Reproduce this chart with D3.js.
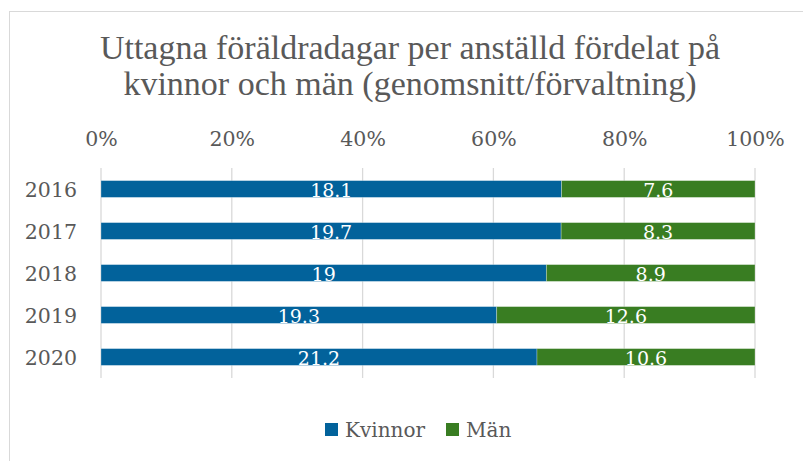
<!DOCTYPE html>
<html>
<head>
<meta charset="utf-8">
<script src="https://cdn.jsdelivr.net/npm/d3@7"></script>
<style>
    body { margin: 0; background: #fff; }
    text { font-family: "DejaVu Serif", serif; }
</style>
</head>
<body>
<div id="chart"></div>
<script>
var years           =   [ '2016', '2017', '2018', '2019', '2020' ];
var kvinnor         =   [ 18.1, 19.7, 19, 19.3, 21.2 ];
var man             =   [ 7.6, 8.3, 8.9, 12.6, 10.6 ];
var ticks           =   [ 0, 0.2, 0.4, 0.6, 0.8, 1 ];
var series_names    =   [ 'Kvinnor', 'Män' ];
var title_lines     =   [ 'Uttagna föräldradagar per anställd fördelat på', 'kvinnor och män (genomsnitt/förvaltning)' ];
var colors          =   [ '#02629b', '#397d22' ];

var chart_width     =   803;
var chart_height    =   461;
var plot_left       =   101;
var plot_right      =   755;
var plot_top        =   168;
var plot_bottom     =   378;

var svg             =   d3.select( '#chart' )
    .append( 'svg' )
    .attr( 'width', chart_width )
    .attr( 'height', chart_height );

// chart border
svg.append( 'rect' )
    .attr( 'x', 9.5 )
    .attr( 'y', 11.5 )
    .attr( 'width', 820 )
    .attr( 'height', 480 )
    .attr( 'fill', '#fff' )
    .attr( 'stroke', '#d9d9d9' );

// title, one text per line (style beats the css rule)
var title_y         =   [ 59, 95 ];
svg.append( 'g' )
    .selectAll( 'text' )
    .data( title_lines )
    .enter()
    .append( 'text' )
    .attr( 'x', 410 )
    .attr( 'y', function(d, i){ return title_y[i]; } )
    .attr( 'text-anchor', 'middle' )
    .attr( 'fill', '#595959' )
    .style( 'font-family', '"Liberation Serif", serif' )
    .style( 'font-size', '34px' )
    .text(function(d){ return d; });

// stack data
var rows = years.map(function(y, i){
    return { year: y, Kvinnor: kvinnor[i], 'Män': man[i] };
});
var stacked = d3.stack()
    .keys( series_names )
    .offset( d3.stackOffsetExpand )( rows );

// scales
var x_scale         =   d3.scaleLinear()
    .domain([ 0, 1 ])
    .range([ plot_left, plot_right ]);

var y_scale         =   d3.scaleBand()
    .domain( years )
    .range([ plot_top, plot_bottom ])
    .paddingInner( 0.6 )
    .paddingOuter( 0.3 );

// gridlines
svg.append( 'g' )
    .selectAll( 'line' )
    .data( ticks )
    .enter()
    .append( 'line' )
    .attr( 'x1', function(d){ return x_scale(d); } )
    .attr( 'x2', function(d){ return x_scale(d); } )
    .attr( 'y1', plot_top )
    .attr( 'y2', plot_bottom )
    .attr( 'stroke', '#d9d9d9' )
    .attr( 'stroke-width', 1.3 );

// top axis
var x_axis          =   d3.axisTop( x_scale )
    .tickValues( ticks )
    .tickFormat( d3.format( '.0%' ) )
    .tickSize( 0 )
    .tickPadding( 0 );

var gx = svg.append( 'g' )
    .attr( 'transform', 'translate(0,146)' )
    .call( x_axis );
gx.select( '.domain' ).remove();
gx.selectAll( 'text' )
    .attr( 'fill', '#595959' )
    .style( 'font-size', '20.5px' );

// left axis
var y_axis          =   d3.axisLeft( y_scale )
    .tickSize( 0 )
    .tickPadding( 24 );

var gy = svg.append( 'g' )
    .attr( 'transform', 'translate(' + plot_left + ',0)' )
    .call( y_axis );
gy.select( '.domain' ).remove();
gy.selectAll( 'text' )
    .attr( 'fill', '#595959' )
    .attr( 'dy', '0.38em' )
    .style( 'font-size', '20.5px' );

// bars
var groups = svg.append( 'g' )
    .selectAll( 'g' )
    .data( stacked )
    .enter()
    .append( 'g' )
    .attr( 'fill', function(d, i){ return colors[i]; } );

groups.selectAll( 'rect' )
    .data(function(d){ return d; })
    .enter()
    .append( 'rect' )
    .attr( 'x', function(d){ return x_scale(d[0]); } )
    .attr( 'y', function(d){ return y_scale(d.data.year); } )
    .attr( 'width', function(d){ return x_scale(d[1]) - x_scale(d[0]); } )
    .attr( 'height', y_scale.bandwidth() )
    .attr( 'stroke', 'rgba(255,255,255,0.35)' )
    .attr( 'stroke-width', 0.8 );

// data labels
groups.each(function(s){
    d3.select(this).selectAll( 'text' )
        .data( s )
        .enter()
        .append( 'text' )
        .attr( 'x', function(d){ return (x_scale(d[0]) + x_scale(d[1])) / 2; } )
        .attr( 'y', function(d){ return y_scale(d.data.year) + y_scale.bandwidth() / 2 + 8; } )
        .attr( 'text-anchor', 'middle' )
        .attr( 'fill', '#fff' )
        .style( 'font-size', '19px' )
        .text(function(d){ return d.data[s.key]; });
});

// legend
var legend_x = [ 325, 446 ];
var legend = svg.append( 'g' )
    .selectAll( 'g' )
    .data( series_names )
    .enter()
    .append( 'g' )
    .attr( 'transform', function(d, i){ return 'translate(' + legend_x[i] + ',423)'; } );
legend.append( 'rect' )
    .attr( 'width', 13 )
    .attr( 'height', 13 )
    .attr( 'fill', function(d, i){ return colors[i]; } );
legend.append( 'text' )
    .attr( 'x', 20 )
    .attr( 'y', 14 )
    .attr( 'fill', '#595959' )
    .style( 'font-size', '20px' )
    .text(function(d){ return d; });
</script>
</body>
</html>
